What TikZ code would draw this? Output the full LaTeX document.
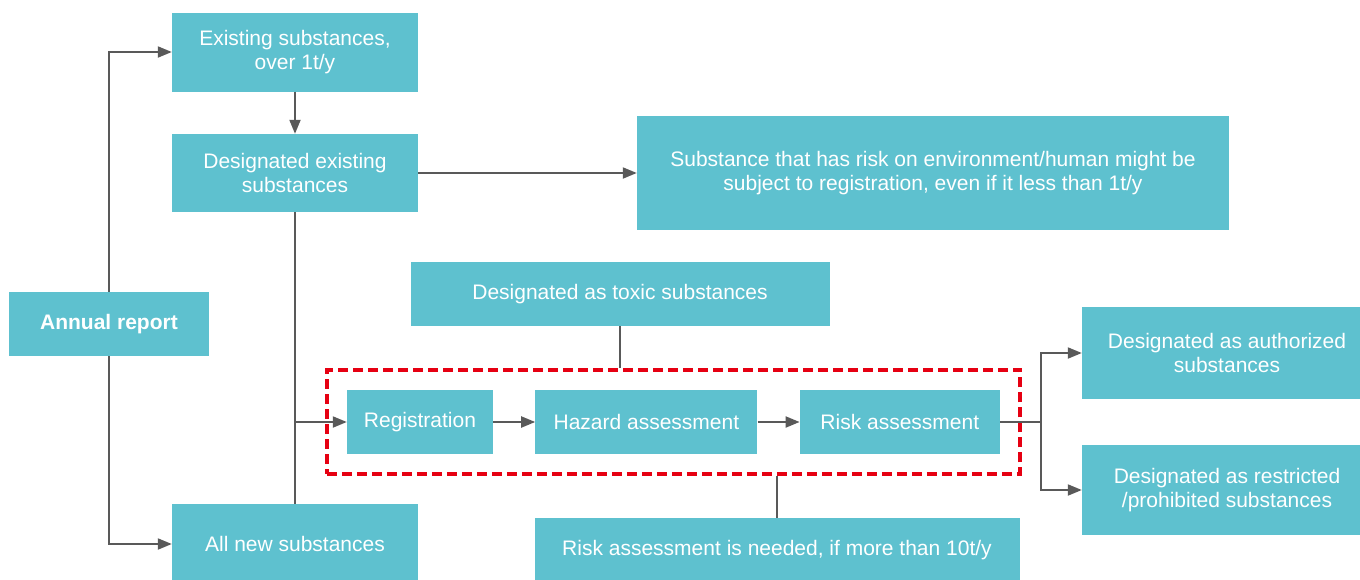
\documentclass[tikz,border=0pt]{standalone}
\usepackage{fontspec}
\setmainfont{Liberation Sans}
\usetikzlibrary{arrows.meta,positioning,fit}

\definecolor{boxteal}{HTML}{5EC1CF}
\definecolor{linegray}{HTML}{595959}
\definecolor{markred}{HTML}{E60012}

\begin{document}
\begin{tikzpicture}[
    x=1pt, y=-1pt,
    font=\fontsize{21}{24}\selectfont,
    node distance=42pt,
    block/.style={fill=boxteal, text=white, align=center, inner sep=0pt},
    line/.style={-{Triangle[length=14pt,width=11pt]}, linegray, line width=2pt},
    plain/.style={linegray, line width=2pt},
    focus/.style={draw=markred, line width=4.5pt, dash pattern=on 10pt off 5pt, inner sep=20pt}
]
    \useasboundingbox (0,0) rectangle (1360,579);

    \node[block, minimum width=200pt, minimum height=64pt, font=\fontsize{21}{24}\selectfont\bfseries] (annual) at (109,324) {Annual report};
    \node[block, minimum width=246pt, minimum height=79pt] (exist) at (295,52) {Existing substances,\\over 1t/y};
    \node[block, minimum width=246pt, minimum height=78pt] (desig) at (295,173) {Designated existing\\substances};
    \node[block, minimum width=246pt, minimum height=80pt] (allnew) at (295,544) {All new substances};
    \node[block, minimum width=592pt, minimum height=114pt] (riskenv) at (933,173) {Substance that has risk on environment/human might be\\subject to registration, even if it less than 1t/y};
    \node[block, minimum width=419pt, minimum height=64pt] (toxic) at (620,294) {Designated as toxic substances};

    \node[block, minimum width=146pt, minimum height=64pt] (reg) at (420,422) {Registration};
    \node[block, minimum width=222pt, minimum height=64pt, right=of reg] (hazard) {Hazard assessment};
    \node[block, minimum width=200pt, minimum height=64pt, right=of hazard] (riskass) {Risk assessment};
    \node[focus, fit=(reg)(riskass)] (redbox) {};

    \node[block, minimum width=485pt, minimum height=64pt] (needed) at (777,550) {Risk assessment is needed, if more than 10t/y};
    \node[block, minimum width=290pt, minimum height=92pt] (auth) at (1227,353) {Designated as authorized\\substances};
    \node[block, minimum width=290pt, minimum height=90pt] (restr) at (1227,490) {Designated as restricted\\/prohibited substances};

    \draw[line] (annual.north) |- (exist.west);
    \draw[line] (annual.south) |- (allnew.west);
    \draw[line] (exist) -- (desig);
    \draw[line] (desig) -- (riskenv);
    \draw[plain] (desig.south) -- (allnew.north);
    \draw[line] (desig.south |- reg.west) -- (reg.west);
    \draw[line] (reg) -- (hazard);
    \draw[line] (hazard) -- (riskass);
    \draw[plain] (toxic.south) -- (toxic.south |- redbox.north);
    \draw[plain] (needed.north) -- (needed.north |- redbox.south);
    \draw[plain] (riskass.east) -- ++(41,0) coordinate (split);
    \draw[line] (split) |- (auth.west);
    \draw[line] (split) |- (restr.west);
\end{tikzpicture}
\end{document}
